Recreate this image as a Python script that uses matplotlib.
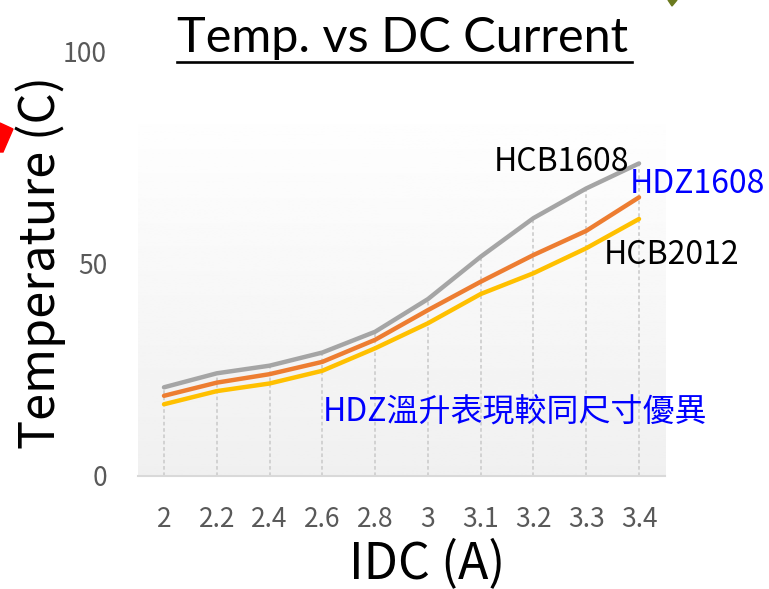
import matplotlib.pyplot as plt
import matplotlib.patches as mpatches
import numpy as np

# datos
corriente = ['2', '2.2', '2.4', '2.6', '2.8', '3', '3.1', '3.2', '3.3', '3.4']
hcb1608 = [20.8, 24.1, 25.9, 29.0, 33.9, 41.6, 51.6, 60.7, 67.7, 73.6]
hdz1608 = [18.8, 21.9, 23.9, 26.8, 32.0, 39.0, 45.7, 52.0, 57.7, 65.6]
hcb2012 = [16.8, 19.9, 21.7, 24.7, 30.0, 35.9, 42.8, 47.7, 53.6, 60.5]
y_ticks = [0, 50, 100]

fuente = ['Noto Sans CJK TC', 'DejaVu Sans']
plt.rcParams['font.family'] = fuente

W, H = 769, 589
fig = plt.figure(figsize=(W / 100, H / 100), dpi=100)
ax = fig.add_axes([137.6 / W, 1 - 475.5 / H, (665.4 - 137.6) / W, (475.5 - 51.5) / H])

x = np.arange(len(corriente))

# fondo degradado del área del gráfico
grad = np.linspace(0.94, 1.0, 256).reshape(-1, 1)
ax.imshow(grad, cmap='gray', vmin=0, vmax=1, origin='lower', aspect='auto',
          extent=(-0.5, 9.5, 0, 88.6), zorder=0)

# líneas de caída
tope = np.maximum.reduce([hcb1608, hdz1608, hcb2012])
ax.vlines(x, 0, tope, colors='#cfcfcf', linestyles=(0, (2, 1.5)), linewidth=1.3, zorder=1)

ax.plot(x, hcb1608, color='#A5A5A5', linewidth=3.2, solid_capstyle='round', zorder=3)
ax.plot(x, hdz1608, color='#ED7D31', linewidth=3.2, solid_capstyle='round', zorder=3)
ax.plot(x, hcb2012, color='#FFC000', linewidth=3.2, solid_capstyle='round', zorder=3)

ax.set_xlim(-0.5, 9.5)
ax.set_ylim(0, 100)
ax.set_xticks(x)
ax.set_xticklabels(corriente)
ax.set_yticks(y_ticks)
ax.tick_params(length=0, labelsize=19, labelcolor='#595959')
ax.tick_params(axis='x', pad=22)
ax.tick_params(axis='y', pad=22)
for s in ['top', 'right', 'left']:
    ax.spines[s].set_visible(False)
ax.spines['bottom'].set_color('#d9d9d9')
ax.spines['bottom'].set_linewidth(1.5)
ax.patch.set_alpha(0)

ax.set_ylabel('Temperature (C)', fontsize=35, va='center')
ax.yaxis.set_label_coords(-0.183, 0.502)
ax.set_xlabel('IDC (A)', fontsize=36, va='baseline')
ax.xaxis.set_label_coords(0.549, -0.242)

# etiquetas de las series
ax.text(8.82, 71.9, 'HCB1608', fontsize=23, color='black', ha='right', va='baseline')
ax.text(8.82, 66.6, 'HDZ1608', fontsize=23, color='#0000ff', ha='left', va='baseline')
ax.text(8.34, 49.9, 'HCB2012', fontsize=23, color='black', ha='left', va='baseline')
ax.text(3.01, 12.9, 'HDZ溫升表現較同尺寸優異', fontsize=23, color='#0000ff', ha='left', va='baseline')

# título subrayado
fig.text(176.7 / W, 1 - 51.7 / H, 'Temp. vs DC Current', fontsize=35,
         family=['Lato', 'DejaVu Sans'], ha='left', va='baseline')
fig.add_artist(plt.Line2D([176.7 / W, 632 / W], [1 - 61.7 / H, 1 - 61.7 / H], color='black', linewidth=1.9))

# restos de formas recortadas
fig.add_artist(mpatches.Polygon([(0, 1 - 123 / H), (13 / W, 1 - 129 / H), (3 / W, 1 - 152 / H), (0, 1 - 152 / H)],
                                closed=True, color='red', transform=fig.transFigure))
fig.add_artist(mpatches.Polygon([(668 / W, 1.0), (677 / W, 1.0), (672 / W, 1 - 6 / H)],
                                closed=True, color='#6b7a1f', transform=fig.transFigure))

fig.savefig('out.png', dpi=100)
